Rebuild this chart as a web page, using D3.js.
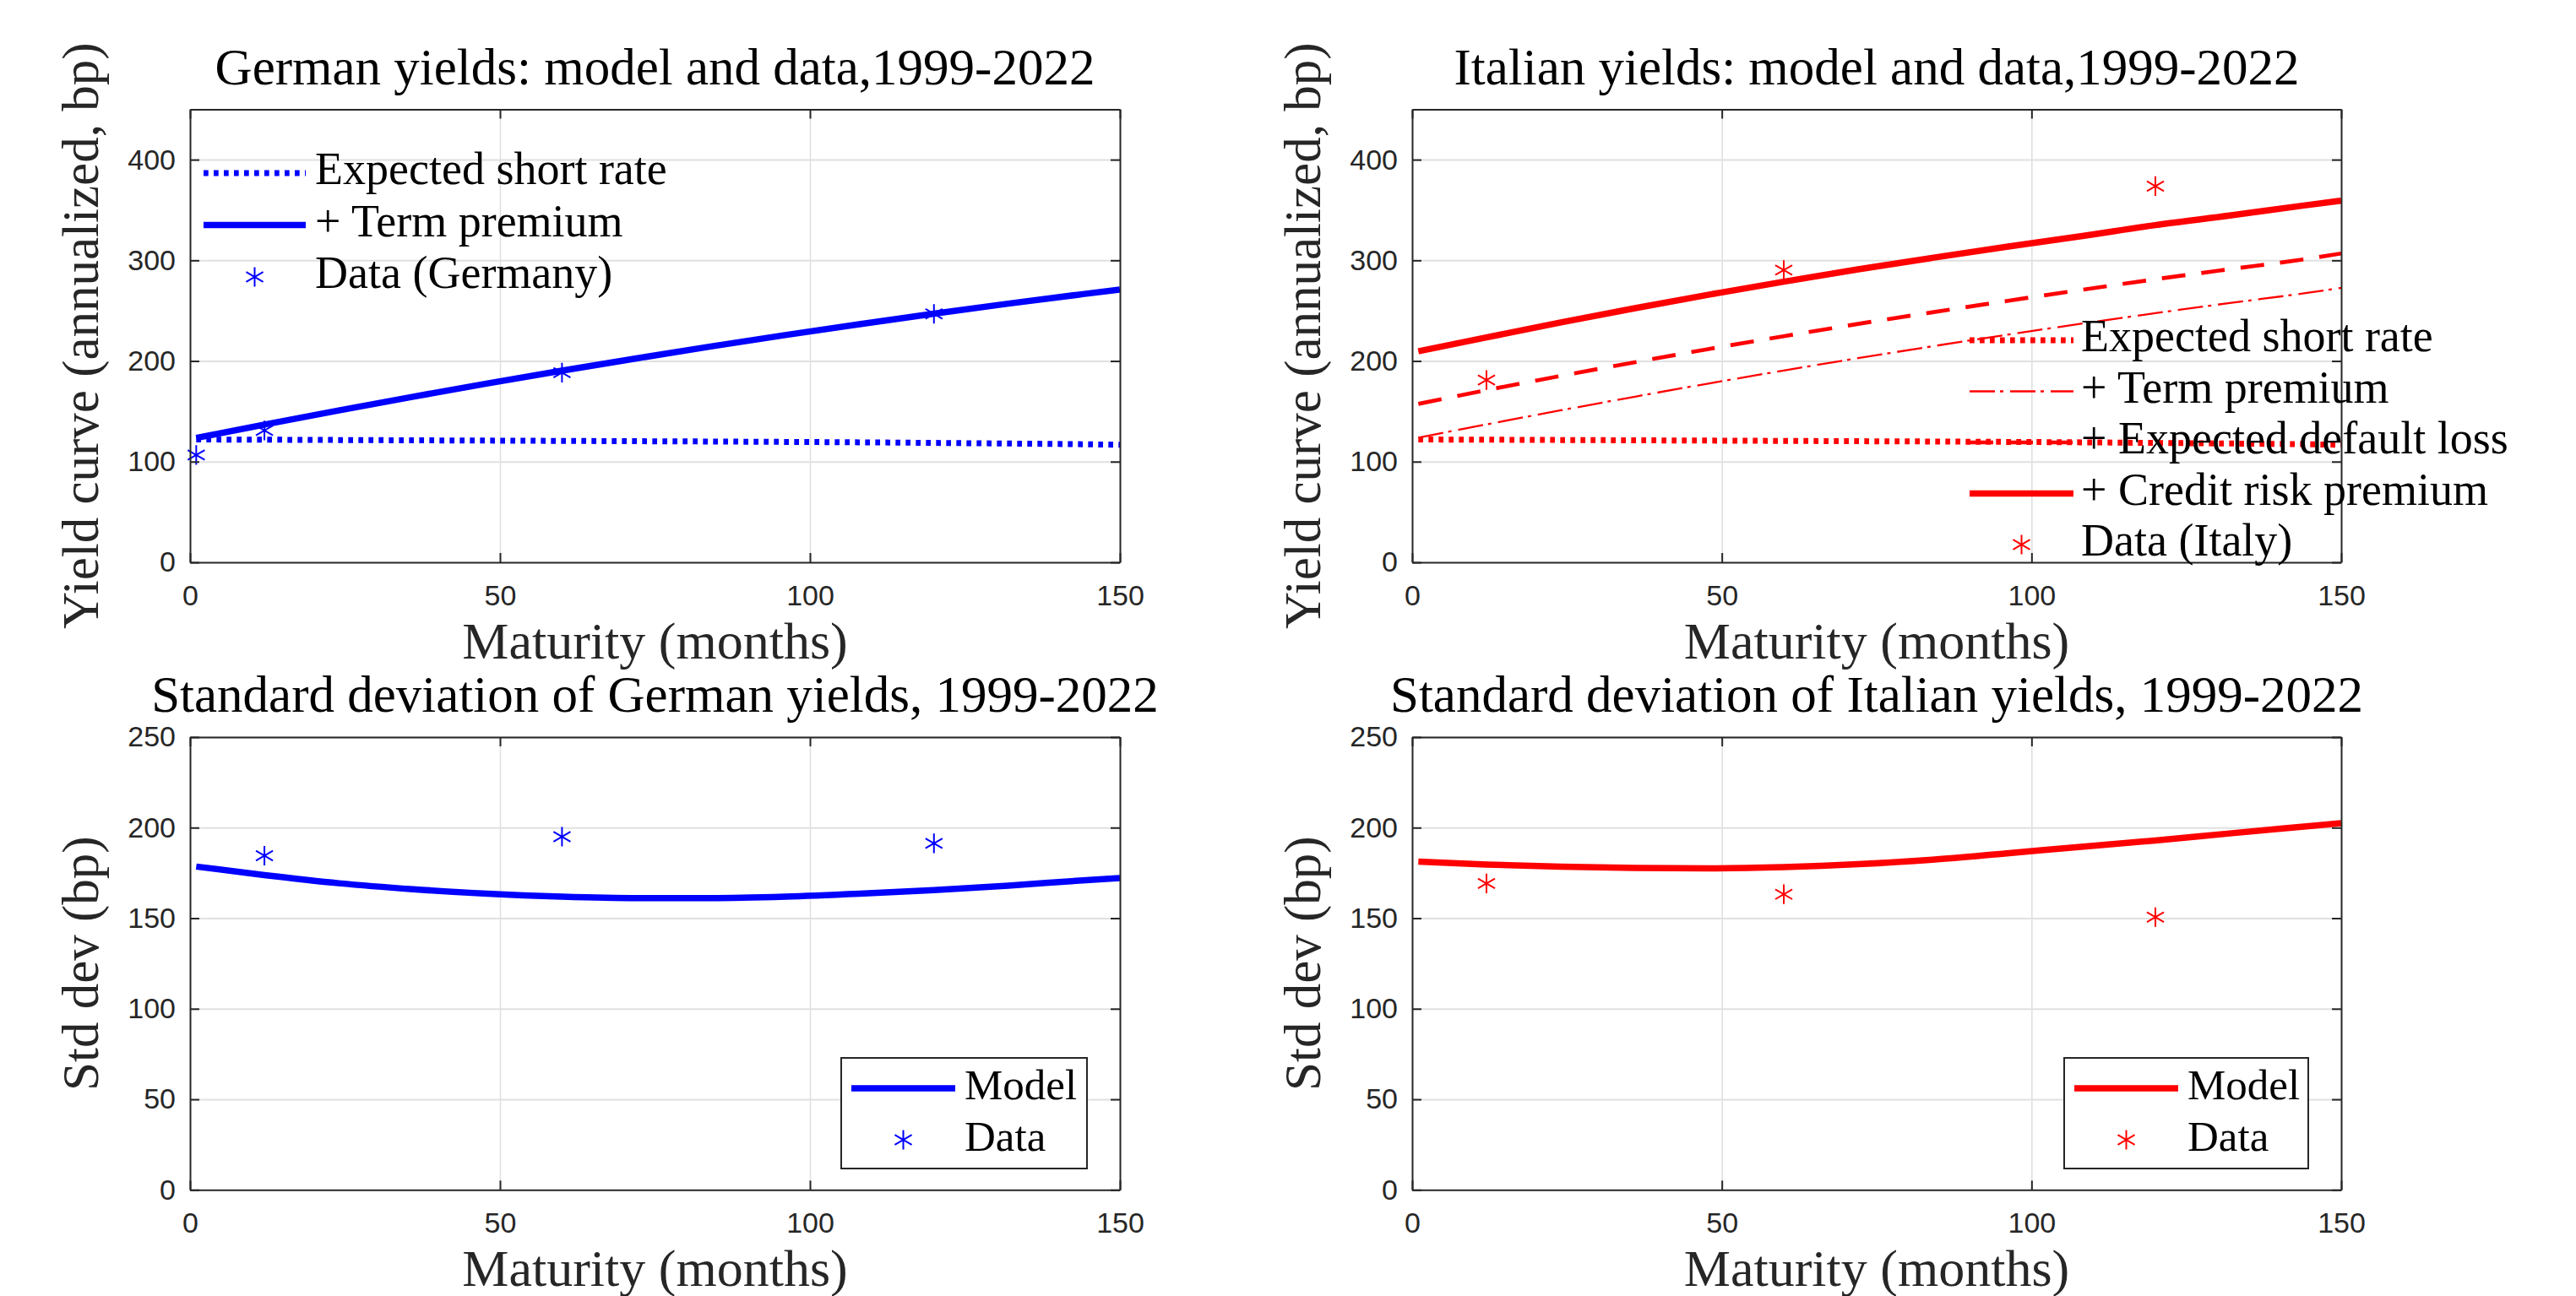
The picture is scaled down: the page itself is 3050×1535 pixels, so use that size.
<!DOCTYPE html>
<html>
<head>
<meta charset="utf-8">
<script src="https://cdn.jsdelivr.net/npm/d3@7"></script>
<style>
  body { margin: 0; background: #fff; }
  svg text { font-family: "Liberation Serif", "Times New Roman", serif; }
  .tick text { font-family: "Liberation Sans", Arial, sans-serif; }
</style>
</head>
<body>
<svg id="chart" width="3050" height="1535"></svg>
<script>
// maturity grid of the model curves (months)
const maturities = [1, 12, 24, 36, 48, 60, 72, 84, 96, 108, 120, 132, 144, 150];

// German yields (bp)
const deShortRate   = [122.0, 121.8, 121.5, 121.2, 120.9, 120.6, 120.3, 120.0, 119.6, 119.2, 118.6, 118.0, 117.3, 116.8];
const deTermPremium = [123.5, 136.8, 150.9, 164.5, 177.7, 190.4, 202.6, 214.4, 225.7, 236.6, 247.0, 257.0, 266.4, 271.0];
const deDataMat   = [1, 12, 60, 120];
const deDataYield = [106.6, 131.0, 188.4, 246.8];

// Italian yields (bp)
const itShortRate   = [122.0, 121.8, 121.5, 121.2, 120.9, 120.6, 120.3, 120.0, 119.6, 119.2, 118.6, 118.0, 117.3, 116.8];
const itTermPremium = [123.8, 137.0, 151.0, 164.6, 177.8, 190.5, 202.8, 214.6, 226.0, 237.0, 247.5, 257.6, 267.2, 272.6];
const itDefaultLoss = [157.4, 171.0, 185.2, 198.8, 212.0, 224.6, 236.8, 248.4, 259.6, 270.6, 281.2, 291.2, 301.0, 306.8];
const itCreditRisk  = [209.6, 223.4, 238.3, 252.5, 266.0, 278.8, 291.0, 302.5, 313.5, 324.0, 335.0, 344.5, 354.5, 359.2];
const itDataMat   = [12, 60, 120];
const itDataYield = [181.1, 290.3, 373.7];

// standard deviations (bp)
const deStdModel = [178.5, 173.8, 169.3, 166.0, 163.5, 161.9, 161.1, 161.1, 161.9, 163.5, 165.5, 168.0, 170.9, 172.2];
const deStdData  = [184.5, 195.0, 191.3];
const itStdModel = [181.2, 179.6, 178.4, 177.7, 177.5, 178.2, 179.8, 182.3, 185.8, 189.4, 192.9, 196.8, 200.6, 202.5];
const itStdData  = [169.2, 163.2, 150.6];
const stdDataMat = [12, 60, 120];

const xTicks = [0, 50, 100, 150];
const yieldTicks = [0, 100, 200, 300, 400];
const stdTicks = [0, 50, 100, 150, 200, 250];

const BLUE = "#0000ff", RED = "#ff0000", AX = "#262626";

const styles = {
    dotted:  { width: 7,   dash: "5.7,6.3" },
    dashed:  { width: 4.7, dash: "28,19" },
    dashdot: { width: 2.3, dash: "30,6,4,8" },
    solid:   { width: 7.5, dash: null }
};

const svg = d3.select("#chart");
const toPts = vals => vals.map((v, i) => [maturities[i], v]);
const zip = (ms, vs) => ms.map((m, i) => [m, vs[i]]);
const asterisk = d3.symbol(d3.symbolAsterisk, 380);

const panels = [
    {
        id: "tl", left: 225, right: 1326, top: 129.5, bottom: 666, yMax: 450, yTicks: yieldTicks,
        title: "German yields: model and data,1999-2022",
        ylabel: "Yield curve (annualized, bp)", color: BLUE,
        series: [
            { values: deShortRate, style: "dotted", label: "Expected short rate" },
            { values: deTermPremium, style: "solid", label: "+ Term premium" }
        ],
        data: zip(deDataMat, deDataYield), dataLabel: "Data (Germany)",
        legend: { x0: 241, x1: 362, textX: 373, y: 205, step: 61.5, box: null, size: 54 }
    },
    {
        id: "tr", left: 1672, right: 2772, top: 129.5, bottom: 666, yMax: 450, yTicks: yieldTicks,
        title: "Italian yields: model and data,1999-2022",
        ylabel: "Yield curve (annualized, bp)", color: RED,
        series: [
            { values: itShortRate, style: "dotted", label: "Expected short rate" },
            { values: itTermPremium, style: "dashdot", label: "+ Term premium" },
            { values: itDefaultLoss, style: "dashed", label: "+ Expected default loss" },
            { values: itCreditRisk, style: "solid", label: "+ Credit risk premium" }
        ],
        data: zip(itDataMat, itDataYield), dataLabel: "Data (Italy)",
        legend: { x0: 2332, x1: 2455, textX: 2464, y: 403, step: 60.5, box: null, size: 54 }
    },
    {
        id: "bl", left: 225, right: 1326, top: 873, bottom: 1409.3, yMax: 250, yTicks: stdTicks,
        title: "Standard deviation of German yields, 1999-2022",
        ylabel: "Std dev (bp)", color: BLUE,
        series: [{ values: deStdModel, style: "solid", label: "Model" }],
        data: zip(stdDataMat, deStdData), dataLabel: "Data",
        legend: { x0: 1008, x1: 1131, textX: 1142, y: 1289, step: 61, box: [996, 1253, 291, 131], size: 51 }
    },
    {
        id: "br", left: 1672, right: 2772, top: 873, bottom: 1409.3, yMax: 250, yTicks: stdTicks,
        title: "Standard deviation of Italian yields, 1999-2022",
        ylabel: "Std dev (bp)", color: RED,
        series: [{ values: itStdModel, style: "solid", label: "Model" }],
        data: zip(stdDataMat, itStdData), dataLabel: "Data",
        legend: { x0: 2456, x1: 2579, textX: 2590, y: 1289, step: 61, box: [2444, 1253, 289, 131], size: 51 }
    }
];

function styleAxis(sel) {
    sel.select(".domain").attr("stroke", AX).attr("stroke-width", 2);
    sel.selectAll(".tick line").attr("stroke", AX).attr("stroke-width", 2);
    sel.selectAll(".tick text").attr("fill", AX).attr("font-size", 34);
}

function drawPanel(p) {
    const x = d3.scaleLinear().domain([0, 150]).range([p.left, p.right]);
    const y = d3.scaleLinear().domain([0, p.yMax]).range([p.bottom, p.top]);
    const w = p.right - p.left, h = p.bottom - p.top;
    const g = svg.append("g");

    // grid
    g.append("g")
        .attr("transform", `translate(0,${p.bottom})`)
        .call(d3.axisBottom(x).tickValues([50, 100]).tickSize(-h).tickFormat(""))
        .call(s => s.select(".domain").remove())
        .selectAll("line").attr("stroke", "#dedede").attr("stroke-width", 1.5);
    g.append("g")
        .attr("transform", `translate(${p.left},0)`)
        .call(d3.axisLeft(y).tickValues(p.yTicks.slice(1)).tickSize(-w).tickFormat(""))
        .call(s => s.select(".domain").remove())
        .selectAll("line").attr("stroke", "#e0e0e0").attr("stroke-width", 2);

    // model lines, clipped to the axes
    g.append("clipPath").attr("id", "clip-" + p.id)
        .append("rect").attr("x", p.left).attr("y", p.top).attr("width", w).attr("height", h);
    const plot = g.append("g").attr("clip-path", `url(#clip-${p.id})`);
    const line = d3.line().x(d => x(d[0])).y(d => y(d[1])).curve(d3.curveMonotoneX);

    p.series.forEach(s => {
        const st = styles[s.style];
        plot.append("path")
            .attr("d", line(toPts(s.values)))
            .attr("fill", "none")
            .attr("stroke", p.color)
            .attr("stroke-width", st.width)
            .attr("stroke-dasharray", st.dash);
    });

    g.selectAll(null).data(p.data).join("path")
        .attr("d", asterisk)
        .attr("transform", d => `translate(${x(d[0])},${y(d[1])})`)
        .attr("fill", "none").attr("stroke", p.color).attr("stroke-width", 2);

    // axes with inward ticks on all four sides
    g.append("g").attr("transform", `translate(0,${p.bottom})`)
        .call(d3.axisBottom(x).tickValues(xTicks).tickSizeInner(-11).tickSizeOuter(0).tickPadding(27))
        .call(styleAxis);
    g.append("g").attr("transform", `translate(${p.left},0)`)
        .call(d3.axisLeft(y).tickValues(p.yTicks).tickSizeInner(-11).tickSizeOuter(0).tickPadding(17))
        .call(styleAxis);
    g.append("g").attr("transform", `translate(0,${p.top})`)
        .call(d3.axisTop(x).tickValues(xTicks).tickSizeInner(-11).tickSizeOuter(0).tickFormat(""))
        .call(styleAxis);
    g.append("g").attr("transform", `translate(${p.right},0)`)
        .call(d3.axisRight(y).tickValues(p.yTicks).tickSizeInner(-11).tickSizeOuter(0).tickFormat(""))
        .call(styleAxis);

    // title and labels
    const cx = (p.left + p.right) / 2, cy = (p.top + p.bottom) / 2;
    g.append("text").attr("x", cx).attr("y", p.top - 30)
        .attr("text-anchor", "middle").attr("font-size", 61).text(p.title);
    g.append("text").attr("x", cx).attr("y", p.bottom + 113.5)
        .attr("text-anchor", "middle").attr("font-size", 62).attr("fill", AX).text("Maturity (months)");
    g.append("text")
        .attr("transform", `translate(${p.left - 130},${cy}) rotate(-90)`)
        .attr("text-anchor", "middle").attr("dominant-baseline", "central")
        .attr("font-size", 61).attr("fill", AX).text(p.ylabel);

    // legend
    const L = p.legend;
    const lg = svg.append("g");
    if (L.box) {
        lg.append("rect").attr("x", L.box[0]).attr("y", L.box[1])
            .attr("width", L.box[2]).attr("height", L.box[3])
            .attr("fill", "#fff").attr("stroke", AX).attr("stroke-width", 2);
    }
    const items = p.series.map(s => ({ label: s.label, style: s.style }))
        .concat([{ label: p.dataLabel, marker: true }]);
    items.forEach((it, i) => {
        const ry = L.y + i * L.step;
        if (it.marker) {
            lg.append("path").attr("d", asterisk)
                .attr("transform", `translate(${(L.x0 + L.x1) / 2},${ry})`)
                .attr("fill", "none").attr("stroke", p.color).attr("stroke-width", 2);
        } else {
            const st = styles[it.style];
            lg.append("line").attr("x1", L.x0).attr("x2", L.x1).attr("y1", ry).attr("y2", ry)
                .attr("stroke", p.color).attr("stroke-width", st.width)
                .attr("stroke-dasharray", st.dash);
        }
        lg.append("text").attr("x", L.textX).attr("y", ry + 13)
            .attr("font-size", L.size).text(it.label);
    });
}

panels.forEach(drawPanel);
</script>
</body>
</html>
